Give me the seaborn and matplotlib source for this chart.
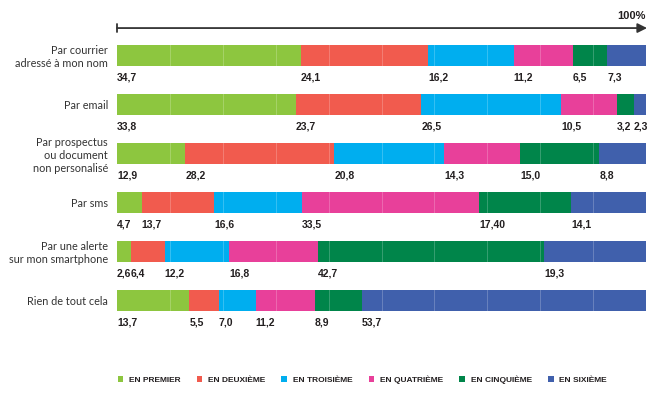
import numpy as np
import pandas as pd
import matplotlib
matplotlib.use('Agg')
import matplotlib.pyplot as plt
from matplotlib.patches import Patch
import seaborn as sns

# data
categories = ["Par courrier\nadressé à mon nom", "Par email",
              "Par prospectus\nou document\nnon personalisé", "Par sms",
              "Par une alerte\nsur mon smartphone", "Rien de tout cela"]
ranks = ["EN PREMIER", "EN DEUXIÈME", "EN TROISIÈME", "EN QUATRIÈME", "EN CINQUIÈME", "EN SIXIÈME"]
premier = [34.7, 33.8, 12.9, 4.7, 2.6, 13.7]
deuxieme = [24.1, 23.7, 28.2, 13.7, 6.4, 5.5]
troisieme = [16.2, 26.5, 20.8, 16.6, 12.2, 7.0]
quatrieme = [11.2, 10.5, 14.3, 33.5, 16.8, 11.2]
cinquieme = [6.5, 3.2, 15.0, 17.4, 42.7, 8.9]
sixieme = [7.3, 2.3, 8.8, 14.1, 19.3, 53.7]
colors = ['#8dc63f', '#f15b4e', '#00aeef', '#e8409a', '#00854a', '#4060ac']

sns.set_style('white')
plt.rcParams['font.family'] = ['Lato', 'DejaVu Sans']
BOLD = ['Liberation Sans', 'DejaVu Sans']

df = pd.DataFrame([premier, deuxieme, troisieme, quatrieme, cinquieme, sixieme],
                  index=ranks, columns=categories).T
cum = df.cumsum(axis=1)
starts = cum - df

fig = plt.figure(figsize=(6.67, 3.96), dpi=100)
ax = fig.add_axes([117 / 667, 0, (646 - 117) / 667, 1])

bar_h = 0.43
# draw stacked bars, longest cumulative first
for k in range(len(ranks) - 1, -1, -1):
    sns.barplot(x=cum[ranks[k]].values, y=categories, orient='h', color=colors[k],
                saturation=1, width=bar_h, linewidth=0, ax=ax, zorder=2)

# faint white grid on bars
for g in range(10, 100, 10):
    ax.axvline(g, color='white', lw=0.6, alpha=0.25, zorder=3)

# value labels
for i, cat in enumerate(categories):
    for k, r in enumerate(ranks):
        v = df.loc[cat, r]
        txt = f"{v:.1f}".replace('.', ',')
        if cat == "Par sms" and r == "EN CINQUIÈME":
            txt = "17,40"
        ax.text(starts.loc[cat, r], i + 0.45, txt, ha='left', va='center',
                fontsize=7.5, fontweight='bold', family=BOLD, color='#231f20')

# top arrow axis
ya = -0.56
ax.annotate('', xy=(100.2, ya), xytext=(0, ya), annotation_clip=False,
            arrowprops=dict(arrowstyle='-|>', color='#333333', lw=1.3,
                            mutation_scale=14, shrinkA=0, shrinkB=0))
ax.plot([0, 0], [ya - 0.08, ya + 0.08], color='#333333', lw=1.3, clip_on=False)
ax.text(100, ya - 0.25, '100%', ha='right', va='center', fontsize=8,
        fontweight='bold', family=BOLD, color='#231f20')

ax.set_xlim(0, 100)
ax.set_ylim((396 - 55.5) / 49, -55.5 / 49)
ax.set_xlabel('')
ax.set_ylabel('')
ax.set_xticks([])
ax.tick_params(axis='y', left=False, pad=3, labelsize=7.8, labelcolor='#333333')
for s in ax.spines.values():
    s.set_visible(False)
ax.patch.set_alpha(0)

handles = [Patch(facecolor=c, edgecolor='none') for c in colors]
leg = fig.legend(handles, ranks, loc='center left', bbox_to_anchor=(110 / 667, 1 - 380 / 396),
                 ncol=6, frameon=False, handlelength=0.7, handleheight=0.7,
                 handletextpad=0.7, columnspacing=1.9,
                 prop={'size': 6, 'weight': 'bold', 'family': BOLD})
for t in leg.get_texts():
    t.set_color('#231f20')

fig.savefig('out.png', dpi=100)
